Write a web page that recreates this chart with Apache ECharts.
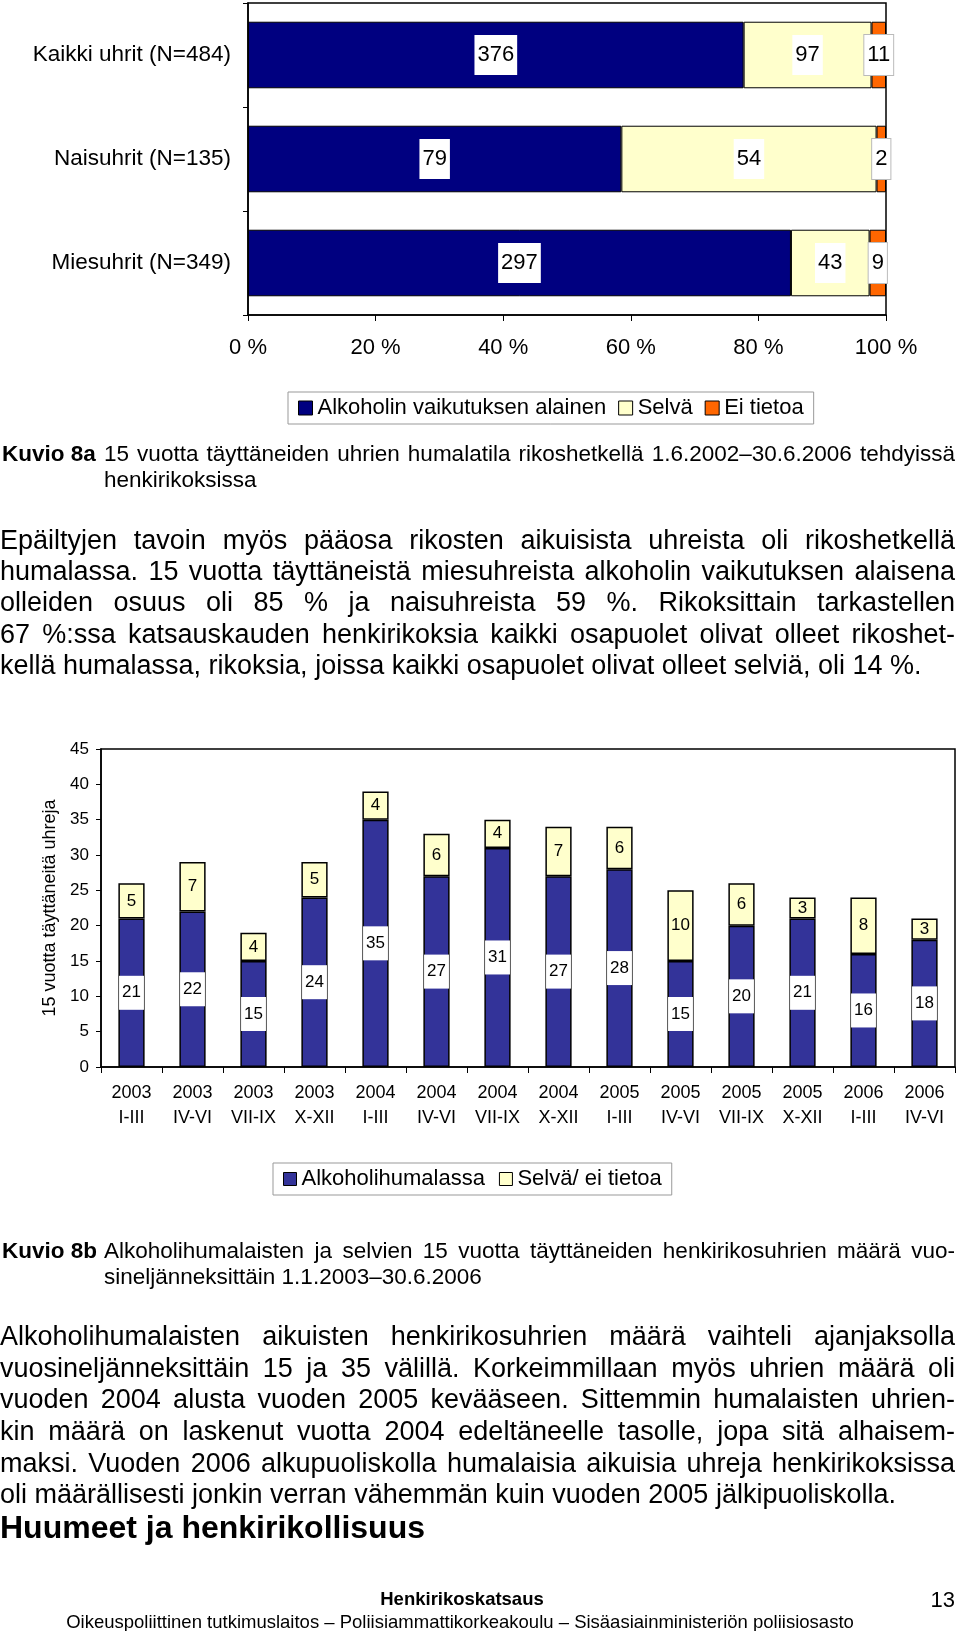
<!DOCTYPE html>
<html><head><meta charset="utf-8">
<script src="https://cdn.jsdelivr.net/npm/echarts@6/dist/echarts.min.js"></script>
<style>html,body{margin:0;padding:0;background:#fff}#c{width:960px;height:1631px}</style>
</head><body><div id="c"></div>
<script>
// ---- Chart 8a data ----
const groups = ['Kaikki uhrit (N=484)', 'Naisuhrit (N=135)', 'Miesuhrit (N=349)'];
const alkoholi = [376, 79, 297];
const selva = [97, 54, 43];
const eiTietoa = [11, 2, 9];
const pctTicks = [0, 20, 40, 60, 80, 100];

// ---- Chart 8b data ----
const quarters = ['2003\nI-III','2003\nIV-VI','2003\nVII-IX','2003\nX-XII','2004\nI-III','2004\nIV-VI','2004\nVII-IX','2004\nX-XII','2005\nI-III','2005\nIV-VI','2005\nVII-IX','2005\nX-XII','2006\nI-III','2006\nIV-VI'];
const humalassa = [21, 22, 15, 24, 35, 27, 31, 27, 28, 15, 20, 21, 16, 18];
const selvaEiTietoa = [5, 7, 4, 5, 4, 6, 4, 7, 6, 10, 6, 3, 8, 3];

const FF = '"Liberation Sans", Arial, sans-serif';
const tot = alkoholi.map((v, i) => v + selva[i] + eiTietoa[i]);
const pct = arr => arr.map((v, i) => v / tot[i] * 100);

function topSeries(name, arr, color, extraLabel) {
  return {
    name, type: 'bar', stack: 'top', xAxisIndex: 0, yAxisIndex: 0,
    barCategoryGap: '36%', data: pct(arr),
    itemStyle: { color, borderColor: '#000', borderWidth: 1 },
    label: Object.assign({
      show: true, position: 'inside', formatter: p => String(arr[p.dataIndex]),
      color: '#000', fontSize: 22, lineHeight: 22, fontFamily: FF,
      backgroundColor: '#fff', padding: [9, 3]
    }, extraLabel || {}),
    emphasis: { disabled: true }
  };
}

// ---- text helpers ----
const ctx = document.createElement('canvas').getContext('2d');
function mw(t, font) { ctx.font = font; return ctx.measureText(t).width; }
const graphics = [];
function txt(text, x, y, font, align) {
  graphics.push({ type: 'text', x, y, silent: true,
    style: { text, font, fill: '#000', textAlign: align || 'left', textVerticalAlign: 'middle' } });
}
function justify(text, x, y, right, font) {
  const words = text.split(' ');
  const ws = words.map(w => mw(w, font));
  const total = ws.reduce((a, b) => a + b, 0);
  const gap = (right - x - total) / (words.length - 1);
  let cx = x;
  words.forEach((w, i) => { txt(w, cx, y, font); cx += ws[i] + gap; });
}
const RIGHT = 955;
const capFont = '22.5px ' + FF, capBold = 'bold 22.5px ' + FF;
const pFont = '27px ' + FF;

// Caption 8a
txt('Kuvio 8a', 2, 455, capBold);
justify('15 vuotta täyttäneiden uhrien humalatila rikoshetkellä 1.6.2002–30.6.2006 tehdyissä', 104, 455, RIGHT, capFont);
txt('henkirikoksissa', 104, 481, capFont);

// Paragraph 1
const para1 = [
  'Epäiltyjen tavoin myös pääosa rikosten aikuisista uhreista oli rikoshetkellä',
  'humalassa. 15 vuotta täyttäneistä miesuhreista alkoholin vaikutuksen alaisena',
  'olleiden osuus oli 85 % ja naisuhreista 59 %. Rikoksittain tarkastellen',
  '67 %:ssa katsauskauden henkirikoksia kaikki osapuolet olivat olleet rikoshet-',
  'kellä humalassa, rikoksia, joissa kaikki osapuolet olivat olleet selviä, oli 14 %.'
];
const para1Y = [542, 573, 604, 636, 667];
para1.forEach((l, i) => i < para1.length - 1 ? justify(l, 0, para1Y[i], RIGHT, pFont) : txt(l, 0, para1Y[i], pFont));

// Caption 8b
txt('Kuvio 8b', 2, 1252, capBold);
justify('Alkoholihumalaisten ja selvien 15 vuotta täyttäneiden henkirikosuhrien määrä vuo-', 104, 1252, RIGHT, capFont);
txt('sineljänneksittäin 1.1.2003–30.6.2006', 104, 1278, capFont);

// Paragraph 2
const para2 = [
  'Alkoholihumalaisten aikuisten henkirikosuhrien määrä vaihteli ajanjaksolla',
  'vuosineljänneksittäin 15 ja 35 välillä. Korkeimmillaan myös uhrien määrä oli',
  'vuoden 2004 alusta vuoden 2005 kevääseen. Sittemmin humalaisten uhrien-',
  'kin määrä on laskenut vuotta 2004 edeltäneelle tasolle, jopa sitä alhaisem-',
  'maksi. Vuoden 2006 alkupuoliskolla humalaisia aikuisia uhreja henkirikoksissa',
  'oli määrällisesti jonkin verran vähemmän kuin vuoden 2005 jälkipuoliskolla.'
];
const para2Y = [1338, 1370, 1401, 1433, 1465, 1496];
para2.forEach((l, i) => i < para2.length - 1 ? justify(l, 0, para2Y[i], RIGHT, pFont) : txt(l, 0, para2Y[i], pFont));

// Heading and footer
txt('Huumeet ja henkirikollisuus', 0, 1529, 'bold 32px ' + FF);
txt('Henkirikoskatsaus', 462, 1600, 'bold 18.5px ' + FF, 'center');
txt('13', 955, 1601, '22px ' + FF, 'right');
txt('Oikeuspoliittinen tutkimuslaitos – Poliisiammattikorkeakoulu – Sisäasiainministeriön poliisiosasto', 460, 1623, '18.5px ' + FF, 'center');

const chart = echarts.init(document.getElementById('c'), null, { renderer: 'canvas' });
chart.setOption({
  animation: false,
  backgroundColor: '#fff',
  textStyle: { fontFamily: FF, color: '#000' },
  grid: [
    { left: 248, top: 3, width: 638, height: 312, show: true, borderColor: '#000', borderWidth: 1.5, containLabel: false },
    { left: 101, top: 749, width: 854, height: 318, show: true, borderColor: '#000', borderWidth: 1.5, containLabel: false }
  ],
  xAxis: [
    { type: 'value', gridIndex: 0, min: pctTicks[0], max: pctTicks[pctTicks.length - 1], interval: 20,
      axisLine: { show: true, lineStyle: { color: '#000', width: 1.5 } },
      axisTick: { show: true, length: 6, lineStyle: { color: '#000' } },
      splitLine: { show: false },
      axisLabel: { formatter: '{value} %', fontSize: 22, color: '#000', margin: 22, fontFamily: FF } },
    { type: 'category', gridIndex: 1, data: quarters,
      axisLine: { show: true, lineStyle: { color: '#000', width: 1.5 } },
      axisTick: { show: true, length: 6, alignWithLabel: false, lineStyle: { color: '#000' } },
      axisLabel: { interval: 0, fontSize: 18, lineHeight: 25, color: '#000', margin: 14, fontFamily: FF } }
  ],
  yAxis: [
    { type: 'category', gridIndex: 0, data: groups, inverse: true,
      axisLine: { show: true, lineStyle: { color: '#000', width: 1.5 } },
      axisTick: { show: true, length: 5, lineStyle: { color: '#000' } },
      axisLabel: { fontSize: 22.5, color: '#000', margin: 17, fontFamily: FF } },
    { type: 'value', gridIndex: 1, min: 0, max: 45, interval: 5,
      name: '15 vuotta täyttäneitä uhreja', nameLocation: 'middle', nameRotate: 90, nameGap: 40,
      nameTextStyle: { fontSize: 18, color: '#000', fontFamily: FF },
      axisLine: { show: true, lineStyle: { color: '#000', width: 1.5 } },
      axisTick: { show: true, length: 5, lineStyle: { color: '#000' } },
      splitLine: { show: false },
      axisLabel: { fontSize: 17, color: '#000', margin: 12, fontFamily: FF } }
  ],
  legend: [
    { left: 288, top: 392, orient: 'horizontal', padding: [5, 10], itemGap: 12, itemWidth: 14, itemHeight: 14,
      borderColor: '#999', borderWidth: 1, icon: 'rect',
      itemStyle: { borderColor: '#000', borderWidth: 1 },
      textStyle: { fontSize: 22, color: '#000', fontFamily: FF },
      data: ['Alkoholin vaikutuksen alainen', 'Selvä', 'Ei tietoa'] },
    { left: 273, top: 1163, orient: 'horizontal', padding: [5, 10], itemGap: 14, itemWidth: 13, itemHeight: 13,
      borderColor: '#999', borderWidth: 1, icon: 'rect',
      itemStyle: { borderColor: '#000', borderWidth: 1 },
      textStyle: { fontSize: 22, color: '#000', fontFamily: FF },
      data: ['Alkoholihumalassa', 'Selvä/ ei tietoa'] }
  ],
  series: [
    topSeries('Alkoholin vaikutuksen alainen', alkoholi, '#000080'),
    topSeries('Selvä', selva, '#FFFFCC'),
    topSeries('Ei tietoa', eiTietoa, '#FF6600', { borderColor: '#bbb', borderWidth: 1 }),
    { name: 'Alkoholihumalassa', type: 'bar', stack: 'q', xAxisIndex: 1, yAxisIndex: 1,
      barCategoryGap: '57%', data: humalassa,
      itemStyle: { color: '#333399', borderColor: '#000', borderWidth: 1.5 },
      label: { show: true, position: 'inside', color: '#000', fontSize: 17, lineHeight: 18, fontFamily: FF,
               backgroundColor: '#fff', padding: [8, 3] },
      emphasis: { disabled: true } },
    { name: 'Selvä/ ei tietoa', type: 'bar', stack: 'q', xAxisIndex: 1, yAxisIndex: 1,
      barCategoryGap: '57%', data: selvaEiTietoa,
      itemStyle: { color: '#FFFFCC', borderColor: '#000', borderWidth: 1.5 },
      label: { show: true, position: 'inside', color: '#000', fontSize: 17, fontFamily: FF },
      emphasis: { disabled: true } }
  ],
  graphic: graphics
});
</script>
</body></html>
